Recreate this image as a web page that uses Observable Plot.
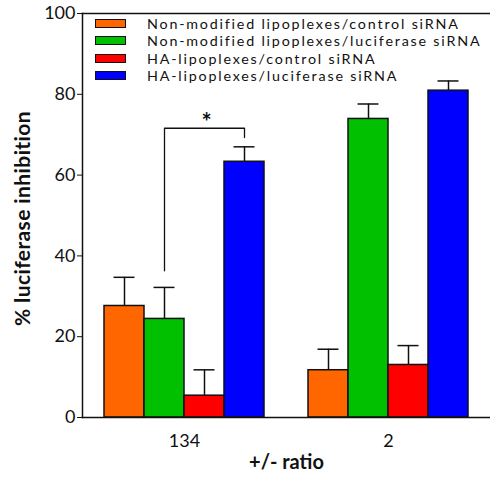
<!DOCTYPE html>
<html>
<head>
<meta charset="utf-8">
<script src="https://cdn.jsdelivr.net/npm/d3@7"></script>
<script src="https://cdn.jsdelivr.net/npm/@observablehq/plot@0.6"></script>
<style>
  html, body { margin: 0; padding: 0; background: #fff; }
  #wrap { position: relative; width: 490px; height: 481px; font-family: Lato, "Open Sans", sans-serif; }
  #legend { position: absolute; left: 95px; top: 15px; font-size: 14.3px; line-height: 17.3px; color: #111; }
  .row { display: flex; align-items: center; height: 17.3px; }
  .sw { width: 29px; height: 7px; border: 1.5px solid #111; margin-right: 21px; }
  .lab { letter-spacing: 1.8px; white-space: nowrap; line-height: 17px; }
  .ylab { letter-spacing: 0.4px; }
</style>
</head>
<body>
<div id="wrap"></div>
<script>
const groups = ["134", "2"];
const series = [
  "Non-modified lipoplexes/control siRNA",
  "Non-modified lipoplexes/luciferase siRNA",
  "HA-lipoplexes/control siRNA",
  "HA-lipoplexes/luciferase siRNA"
];
const colors = ["#FF6600", "#00C000", "#FF0000", "#0000FF"];
const means134 = [27.6, 24.4, 5.4, 63.3];
const errs134 = [34.7, 32.2, 11.8, 67.0];
const means2 = [11.7, 73.9, 13.0, 80.9];
const errs2 = [16.9, 77.6, 17.8, 83.3];
const yTicks = [0, 20, 40, 60, 80, 100];
const yDomain = [0, 100];
// significance bracket: between series 2 and 4 of group "134"
const bracketSeries = [series[1], series[1], series[3], series[3]];
const bracketValues = [36.3, 71.6, 71.6, 69.3];
const starLabel = "*";
const yLabel = "% luciferase inhibition";
const xLabel = "+/- ratio";

const data = [];
series.forEach((s, i) => {
  data.push({group: groups[0], series: s, value: means134[i], err: errs134[i]});
  data.push({group: groups[1], series: s, value: means2[i], err: errs2[i]});
});
const bracket = bracketSeries.map((s, i) => ({group: groups[0], series: s, v: bracketValues[i]}));

const chart = Plot.plot({
  width: 490,
  height: 481,
  marginLeft: 82,
  marginRight: 0,
  marginTop: 13,
  marginBottom: 64,
  style: {fontFamily: "Lato, 'Open Sans', sans-serif", fontSize: "18px", color: "#111", background: "#fff"},
  fx: {domain: groups, padding: 0, axis: "bottom", tickSize: 0, tickPadding: 17, label: null},
  x: {domain: series, paddingInner: 0, paddingOuter: 0.503, axis: null},
  y: {domain: yDomain, ticks: yTicks, tickSize: 5, tickPadding: 2, label: null},
  color: {domain: series, range: colors},
  marks: [
    Plot.barY(data, {fx: "group", x: "series", y: "value", fill: "series", stroke: "#111", strokeWidth: 1.5}),
    Plot.ruleX(data, {fx: "group", x: "series", y1: "value", y2: "err", stroke: "#111", strokeWidth: 1.5}),
    Plot.tickY(data, {fx: "group", x: "series", y: "err", stroke: "#111", strokeWidth: 1.5, insetLeft: 9.5, insetRight: 9.5}),
    Plot.line(bracket, {fx: "group", x: "series", y: "v", stroke: "#111", strokeWidth: 1.3}),
    Plot.text([starLabel], {fx: [groups[0]], x: [series[2]], y: [72.8], text: d => d, fontSize: 24, fontWeight: "bold", fill: "#111", dx: 2}),
    Plot.frame({anchor: "left", facet: "super", stroke: "#111", strokeWidth: 1.5}),
    Plot.frame({anchor: "bottom", facet: "super", stroke: "#111", strokeWidth: 1.5}),
    Plot.frame({anchor: "top", facet: "super", stroke: "#111", strokeWidth: 1.5}),
    Plot.text([yLabel], {facet: "super", frameAnchor: "left", dx: -59, dy: 3, rotate: -90, textAnchor: "middle", text: d => d, fontSize: 21, fontWeight: "bold", fill: "#111", className: "ylab"}),
    Plot.text([xLabel], {facet: "super", frameAnchor: "bottom", dy: 51, text: d => d, fontSize: 20, fontWeight: "bold", fill: "#111"})
  ]
});

const wrap = document.getElementById("wrap");
wrap.appendChild(chart);
const legend = document.createElement("div");
legend.id = "legend";
series.forEach((s, i) => {
  const row = document.createElement("div");
  row.className = "row";
  const sw = document.createElement("div");
  sw.className = "sw";
  sw.style.background = colors[i];
  const lab = document.createElement("span");
  lab.className = "lab";
  lab.textContent = s;
  row.appendChild(sw);
  row.appendChild(lab);
  legend.appendChild(row);
});
wrap.appendChild(legend);
</script>
</body>
</html>
